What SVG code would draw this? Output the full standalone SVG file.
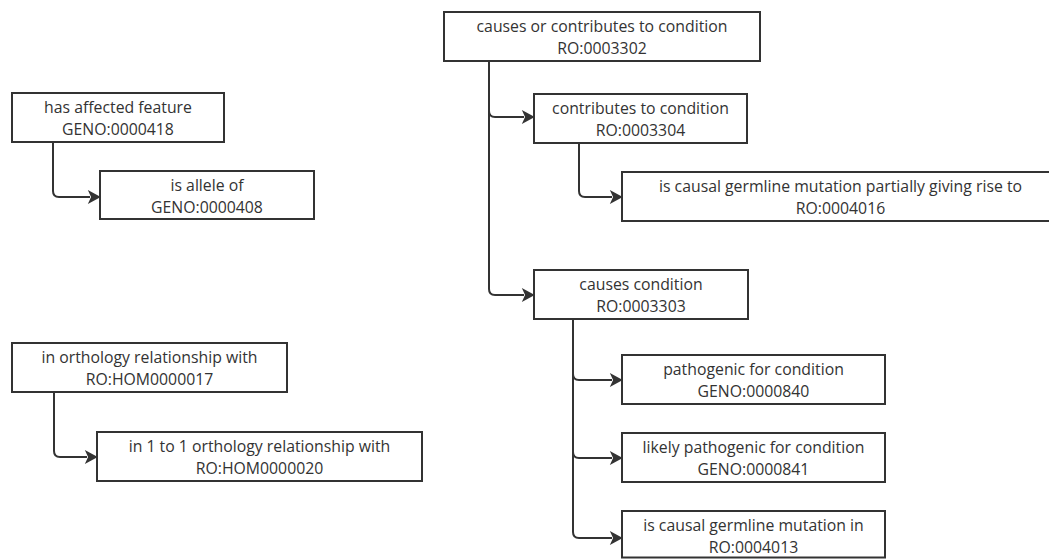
<svg xmlns="http://www.w3.org/2000/svg" width="1049" height="559" viewBox="0 0 1049 559">
  <style>
    .box { fill: #ffffff; stroke: #333333; stroke-width: 2; }
    .lbl { font-family: "Open Sans", "Liberation Sans", sans-serif; font-size: 15.8px; fill: #333333; text-anchor: middle; }
    .edge { fill: none; stroke: #333333; stroke-width: 2; marker-end: url(#arrow); }
  </style>
  <defs>
    <marker id="arrow" markerUnits="userSpaceOnUse" markerWidth="14" markerHeight="14" viewBox="0 0 12 13" refX="2" refY="6.5" orient="auto">
      <path d="M0,0 L12,6.5 L0,13 L3,6.5 Z" fill="#333333"/>
    </marker>
  </defs>
  <rect width="1049" height="559" fill="#ffffff"/>

  <!-- connectors -->
  <g id="connectors">
    <path class="edge" d="M53,142 V191 Q53,197 59,197 H90"/>
    <path class="edge" d="M54,392 V451 Q54,457 60,457 H87"/>
    <path class="edge" d="M489,61 V289 Q489,295 495,295 H524"/>
    <path class="edge" d="M489,111 Q489,117 495,117 H524"/>
    <path class="edge" d="M579,143 V191 Q579,197 585,197 H612"/>
    <path class="edge" d="M573,319 V532 Q573,538 579,538 H612"/>
    <path class="edge" d="M573,374 Q573,380 579,380 H612"/>
    <path class="edge" d="M573,452 Q573,458 579,458 H612"/>
  </g>

  <!-- GENO affected feature branch -->
  <g id="has-affected-feature">
    <rect class="box" x="12" y="93" width="212" height="49"/>
    <text class="lbl" x="118" y="113">has affected feature</text>
    <text class="lbl" x="118" y="135">GENO:0000418</text>
  </g>
  <g id="is-allele-of">
    <rect class="box" x="100" y="171" width="214" height="48"/>
    <text class="lbl" x="207" y="190.5">is allele of</text>
    <text class="lbl" x="207" y="212.5">GENO:0000408</text>
  </g>

  <!-- orthology branch -->
  <g id="in-orthology-relationship-with">
    <rect class="box" x="12" y="343" width="275" height="49"/>
    <text class="lbl" x="149.5" y="363">in orthology relationship with</text>
    <text class="lbl" x="149.5" y="385">RO:HOM0000017</text>
  </g>
  <g id="in-1-to-1-orthology-relationship-with">
    <rect class="box" x="97" y="432" width="325" height="49"/>
    <text class="lbl" x="259.5" y="452">in 1 to 1 orthology relationship with</text>
    <text class="lbl" x="259.5" y="474">RO:HOM0000020</text>
  </g>

  <!-- condition branch -->
  <g id="causes-or-contributes-to-condition">
    <rect class="box" x="444" y="12" width="316" height="49"/>
    <text class="lbl" x="602" y="32">causes or contributes to condition</text>
    <text class="lbl" x="602" y="54">RO:0003302</text>
  </g>
  <g id="contributes-to-condition">
    <rect class="box" x="534" y="94" width="213" height="49"/>
    <text class="lbl" x="640.5" y="114">contributes to condition</text>
    <text class="lbl" x="640.5" y="136">RO:0003304</text>
  </g>
  <g id="partially-giving-rise-to">
    <rect class="box" x="622" y="172" width="437" height="49"/>
    <text class="lbl" x="840.5" y="192">is causal germline mutation partially giving rise to</text>
    <text class="lbl" x="840.5" y="214">RO:0004016</text>
  </g>
  <g id="causes-condition">
    <rect class="box" x="534" y="270" width="214" height="49"/>
    <text class="lbl" x="641" y="290">causes condition</text>
    <text class="lbl" x="641" y="312">RO:0003303</text>
  </g>
  <g id="pathogenic-for-condition">
    <rect class="box" x="622" y="355" width="263" height="49"/>
    <text class="lbl" x="753.5" y="375">pathogenic for condition</text>
    <text class="lbl" x="753.5" y="397">GENO:0000840</text>
  </g>
  <g id="likely-pathogenic-for-condition">
    <rect class="box" x="622" y="433" width="263" height="49"/>
    <text class="lbl" x="753.5" y="453">likely pathogenic for condition</text>
    <text class="lbl" x="753.5" y="475">GENO:0000841</text>
  </g>
  <g id="causal-germline-mutation-in">
    <rect class="box" x="622" y="511" width="263" height="46.5"/>
    <text class="lbl" x="753.5" y="530.5">is causal germline mutation in</text>
    <text class="lbl" x="753.5" y="552.5">RO:0004013</text>
  </g>
</svg>
